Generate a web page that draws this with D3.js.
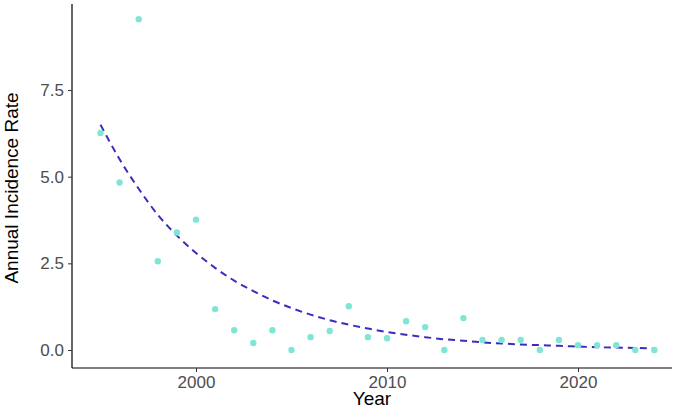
<!DOCTYPE html>
<html><head><meta charset="utf-8">
<script src="https://cdn.jsdelivr.net/npm/d3@7"></script>
<style>body{margin:0;background:#fff}</style></head>
<body><svg id="c" width="685" height="411"></svg>
<script>
const years = d3.range(1995, 2025);
const rates = [6.26,4.83,9.54,2.56,3.39,3.76,1.18,0.57,0.2,0.57,0,0.37,0.55,1.26,0.37,0.34,0.83,0.66,0,0.92,0.29,0.29,0.29,0,0.29,0.14,0.14,0.14,0,0];
const fitted = [6.5,5.5,4.65,3.9,3.3,2.8,2.37,2.0,1.7,1.43,1.21,1.02,0.86,0.73,0.62,0.52,0.44,0.37,0.31,0.27,0.22,0.19,0.16,0.14,0.12,0.1,0.08,0.07,0.06,0.05];
const xTicks = [2000,2010,2020];
const yTicks = [0,2.5,5,7.5];

const svg = d3.select("#c");
const x = d3.scaleLinear().domain([1995,2020]).range([100.5,578]);
const y = d3.scaleLinear().domain([0,7.5]).range([350,90]);
const L=72, B=368;
const F="Liberation Sans, Arial, sans-serif";

const gx = svg.append("g").attr("transform",`translate(0,${B})`)
  .call(d3.axisBottom(x).tickValues(xTicks).tickFormat(d3.format("d")).tickSizeOuter(0).tickSize(4).tickPadding(4));
gx.select(".domain").attr("d",`M${L},0H672`).attr("stroke","#000").attr("stroke-width",1.2);
const gy = svg.append("g").attr("transform",`translate(${L},0)`)
  .call(d3.axisLeft(y).tickValues(yTicks).tickFormat(d3.format(".1f")).tickSizeOuter(0).tickSize(4).tickPadding(4));
gy.select(".domain").attr("d",`M0,4V${B}`).attr("stroke","#000").attr("stroke-width",1.2);
svg.selectAll(".tick text").attr("fill","#4d4d4d").style("font-family",F).style("font-size","17px");
svg.selectAll(".tick line").attr("stroke","#333");

svg.append("path").datum(years.map((t,i)=>[t,fitted[i]]))
  .attr("d",d3.line().x(d=>x(d[0])).y(d=>y(d[1])).curve(d3.curveMonotoneX))
  .attr("fill","none").attr("stroke","#3b2cc0").attr("stroke-width",2).attr("stroke-dasharray","7,5");

svg.selectAll("circle.p").data(years).join("circle")
  .attr("cx",d=>x(d)).attr("cy",(d,i)=>y(rates[i])).attr("r",3.2).attr("fill","#7fe6d6");

svg.append("text").attr("x",372).attr("y",405).attr("text-anchor","middle")
  .style("font-family",F).style("font-size","19px").text("Year");
svg.append("text").attr("transform","translate(18,188) rotate(-90)").attr("text-anchor","middle")
  .style("font-family",F).style("font-size","19px").text("Annual Incidence Rate");
</script></body></html>
